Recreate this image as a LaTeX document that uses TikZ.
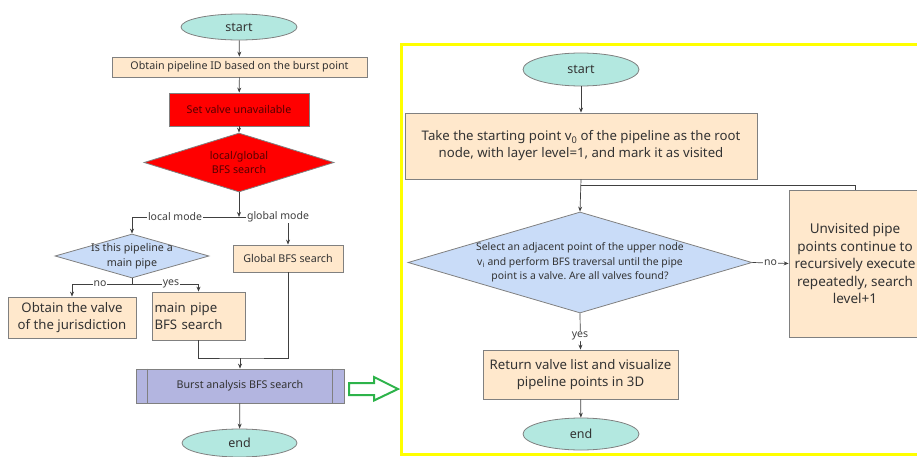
\documentclass[tikz,border=0pt]{standalone}
\usepackage{fontspec}
\setmainfont{Noto Sans}
\usetikzlibrary{shapes.geometric,arrows.meta}
\definecolor{tfill}{HTML}{B3E8E0}
\definecolor{pfill}{HTML}{FFE8CC}
\definecolor{bfill}{HTML}{C9DCF8}
\definecolor{lav}{HTML}{B3B5E0}
\definecolor{bord}{HTML}{808080}
\definecolor{ln}{HTML}{404040}
\definecolor{txt}{HTML}{333333}
\definecolor{redtxt}{HTML}{550000}
\definecolor{grn}{HTML}{2DB34A}
\definecolor{ylw}{HTML}{FFFF00}
\frenchspacing
\begin{document}
\begin{tikzpicture}[x=1pt,y=-1pt,
 base/.style={draw=bord, inner sep=0pt, text=txt, align=center, line width=0.8pt},
 term/.style={base, ellipse, fill=tfill, font=\fontsize{12.5}{14}\selectfont},
 proc/.style={base, rectangle, fill=pfill},
 dec/.style={base, diamond, fill=bfill},
 sm/.style={font=\fontsize{10.7}{14.5}\selectfont},
 lg/.style={font=\fontsize{13.2}{16.5}\selectfont},
 arr/.style={draw=ln, line width=0.7pt, -{Stealth[length=5pt,width=4pt]}},
 conn/.style={draw=ln, line width=0.7pt},
 lbl/.style={fill=white, inner sep=1pt, text=ln, font=\fontsize{10.5}{12}\selectfont},
]
\useasboundingbox (0,0) rectangle (917,457);
\clip (0,0) rectangle (917,457);

% ---------- left flow ----------
\node[term, minimum width=116pt, minimum height=26pt] (sL) at (239,27) {start};
\node[proc, sm, minimum width=255pt, minimum height=20pt] (b1) at (239.5,67) {Obtain pipeline ID based on the burst point};
\node[base, sm, fill=red, text=redtxt, minimum width=140pt, minimum height=33pt] (b2) at (239,109.5) {Set valve unavailable};
\node[base, diamond, fill=red, minimum width=190pt, minimum height=59pt] (d1) at (239,162.5) {};
\node[sm, text=redtxt, align=center] at (d1) {local/global\\BFS search};
\coordinate (J1) at (239,217);
\node[dec, minimum width=154pt, minimum height=44pt] (d2) at (132,256) {};
\node[sm, text=txt, align=center] at (d2) {Is this pipeline a\\main pipe};
\node[proc, sm, minimum width=110pt, minimum height=27pt] (g1) at (288,258.5) {Global BFS search};
\node[proc, lg, minimum width=128pt, minimum height=41pt] (o1) at (72,317.5) {Obtain the valve\\of the jurisdiction};
\node[proc, lg, minimum width=93pt, minimum height=48pt, text width=88pt, align=left] (m1) at (198.5,316) {main pipe\\BFS search};
\coordinate (J2) at (240,358);
\node[base, sm, fill=lav, minimum width=208pt, minimum height=34pt] (burst) at (240,386) {Burst analysis BFS search};
\draw[bord, line width=0.8pt] ([xshift=12pt]burst.north west) -- ([xshift=12pt]burst.south west);
\draw[bord, line width=0.8pt] ([xshift=-12pt]burst.north east) -- ([xshift=-12pt]burst.south east);
\node[term, minimum width=115pt, minimum height=28pt] (eL) at (239.5,443) {end};

\draw[arr] (sL) -- (b1);
\draw[arr] (b1) -- (b2);
\draw[arr] (b2) -- (d1);
\draw[arr] (d1.south) -- (J1);
\draw[arr] (J1) -| (d2.north);
\draw[arr] (J1) -| (g1.north);
\node[lbl] at (175,217) {local mode};
\node[lbl] at (278,217) {global mode};
\coordinate (J4) at (132,284);
\draw[conn] (d2.south) -- (J4);
\draw[arr] (J4) -| (o1.north);
\draw[arr] (J4) -| (m1.north);
\node[lbl] at (100,284) {no};
\node[lbl] at (171,284) {yes};
\draw[conn] (m1.south) |- (J2) -| (g1.south);
\draw[arr] (J2) -- (burst.north);
\draw[arr] (burst) -- (eL);

% ---------- green arrow ----------
\draw[grn, line width=2pt, line join=miter] (349,383) -- (374,383) -- (374,377) -- (398,389) -- (374,400.5) -- (374,395) -- (349,395) -- cycle;

% ---------- yellow frame ----------
\draw[ylw, line width=3pt] (401.5,44.5) rectangle (930,454);

% ---------- right flow ----------
\node[term, minimum width=116pt, minimum height=33pt] (sR) at (581,69.5) {start};
\node[proc, font=\fontsize{13.2}{17}\selectfont, minimum width=352pt, minimum height=66pt] (r1) at (581,146) {Take the starting point v\textsubscript{0} of the pipeline as the root\\node, with layer level=1, and mark it as visited};
\node[dec, minimum width=344pt, minimum height=101pt] (r2) at (580,262.5) {};
\node[font=\fontsize{10.4}{14.5}\selectfont, text=txt, align=center] at (r2) {Select an adjacent point of the upper node\\v\textsubscript{i} and perform BFS traversal until the pipe\\point is a valve. Are all valves found?};
\node[proc, font=\fontsize{13.5}{17.5}\selectfont, minimum width=132pt, minimum height=147pt] (r3) at (855,263.5) {Unvisited pipe\\points continue to\\recursively execute\\repeatedly, search\\level+1};
\node[proc, lg, minimum width=195pt, minimum height=49pt] (r4) at (580.5,374.5) {Return valve list and visualize\\pipeline points in 3D};
\node[term, minimum width=116pt, minimum height=32pt] (eR) at (581,434) {end};
\coordinate (J3) at (581,185);

\draw[arr] (sR) -- (r1);
\draw[arr] (r1.south) -- (r2.north);
\draw[conn] (r3.north) |- (J3);
\draw[arr] (r2.east) -- (r3.west) node[lbl, midway] {no};
\draw[arr] (r2.south) -- (r4.north);
\node[lbl] at (580,336) {yes};
\draw[arr] (r4) -- (eR);
\end{tikzpicture}
\end{document}
